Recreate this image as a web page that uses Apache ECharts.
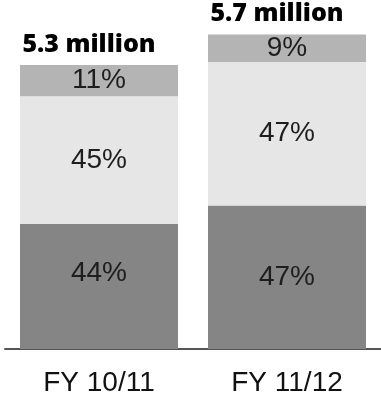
<!DOCTYPE html>
<html>
<head>
<meta charset="utf-8">
<script src="https://cdn.jsdelivr.net/npm/echarts@6/dist/echarts.min.js"></script>
<style>
  html, body { margin: 0; padding: 0; background: #fff; }
  #chart { width: 381px; height: 405px; }
</style>
</head>
<body>
<div id="chart"></div>
<script>
// Fiscal years and total volume (millions)
var categories = ['FY 10/11', 'FY 11/12'];
var totals = [5.3, 5.7];
var totalLabels = ['5.3 million', '5.7 million'];

// Share of the total per segment, in percent (bottom to top)
var shareBottom = [44, 47];
var shareMiddle = [45, 47];
var shareTop = [11, 9];

// Segment sizes in millions, derived from total x share
function seg(shares) {
  return shares.map(function (p, i) { return +(totals[i] * p / 100).toFixed(4); });
}
var bottomVals = seg(shareBottom);
var middleVals = seg(shareMiddle);
var topVals = seg(shareTop);
var stackTops = categories.map(function (_, i) {
  return bottomVals[i] + middleVals[i] + topVals[i];
});

var pctLabel = function (shares) {
  return {
    show: true,
    position: 'inside',
    formatter: function (p) { return shares[p.dataIndex] + '%'; },
    fontFamily: 'Liberation Sans, Arial, sans-serif',
    fontSize: 28,
    color: '#1e1e1e'
  };
};

// Bottom segment of the first bar carries its label a little above centre
var bottomData = bottomVals.map(function (v, i) {
  return i === 0 ? { value: v, label: { offset: [0, -13] } } : v;
});

var chart = echarts.init(document.getElementById('chart'), null, { renderer: 'canvas' });
chart.setOption({
  animation: false,
  grid: { left: 5, width: 382, bottom: 56, height: 321.5, containLabel: false },
  xAxis: {
    type: 'category',
    data: categories,
    axisLine: { show: true, lineStyle: { color: '#555', width: 2 } },
    axisTick: { show: false },
    axisLabel: {
      margin: 20,
      fontFamily: 'Liberation Sans, Arial, sans-serif',
      fontSize: 28,
      color: '#111'
    }
  },
  yAxis: {
    type: 'value',
    min: 0,
    max: 6,
    show: false,
    splitLine: { show: false }
  },
  series: [
    {
      type: 'bar', stack: 'total', barWidth: 158,
      data: bottomData,
      itemStyle: { color: '#858585' },
      label: pctLabel(shareBottom)
    },
    {
      type: 'bar', stack: 'total', barWidth: 158,
      data: middleVals,
      itemStyle: { color: '#e6e6e6' },
      label: pctLabel(shareMiddle)
    },
    {
      type: 'bar', stack: 'total', barWidth: 158,
      data: topVals,
      itemStyle: { color: '#b4b4b4' },
      label: pctLabel(shareTop)
    },
    {
      type: 'scatter',
      data: stackTops,
      symbolSize: 0,
      silent: true,
      itemStyle: { opacity: 1 },
      label: {
        show: true,
        position: 'top',
        distance: 8,
        offset: [-10, 0],
        formatter: function (p) { return totalLabels[p.dataIndex]; },
        fontFamily: 'Open Sans, sans-serif',
        fontWeight: 800,
        fontSize: 25,
        color: '#000'
      }
    }
  ]
});
</script>
</body>
</html>
